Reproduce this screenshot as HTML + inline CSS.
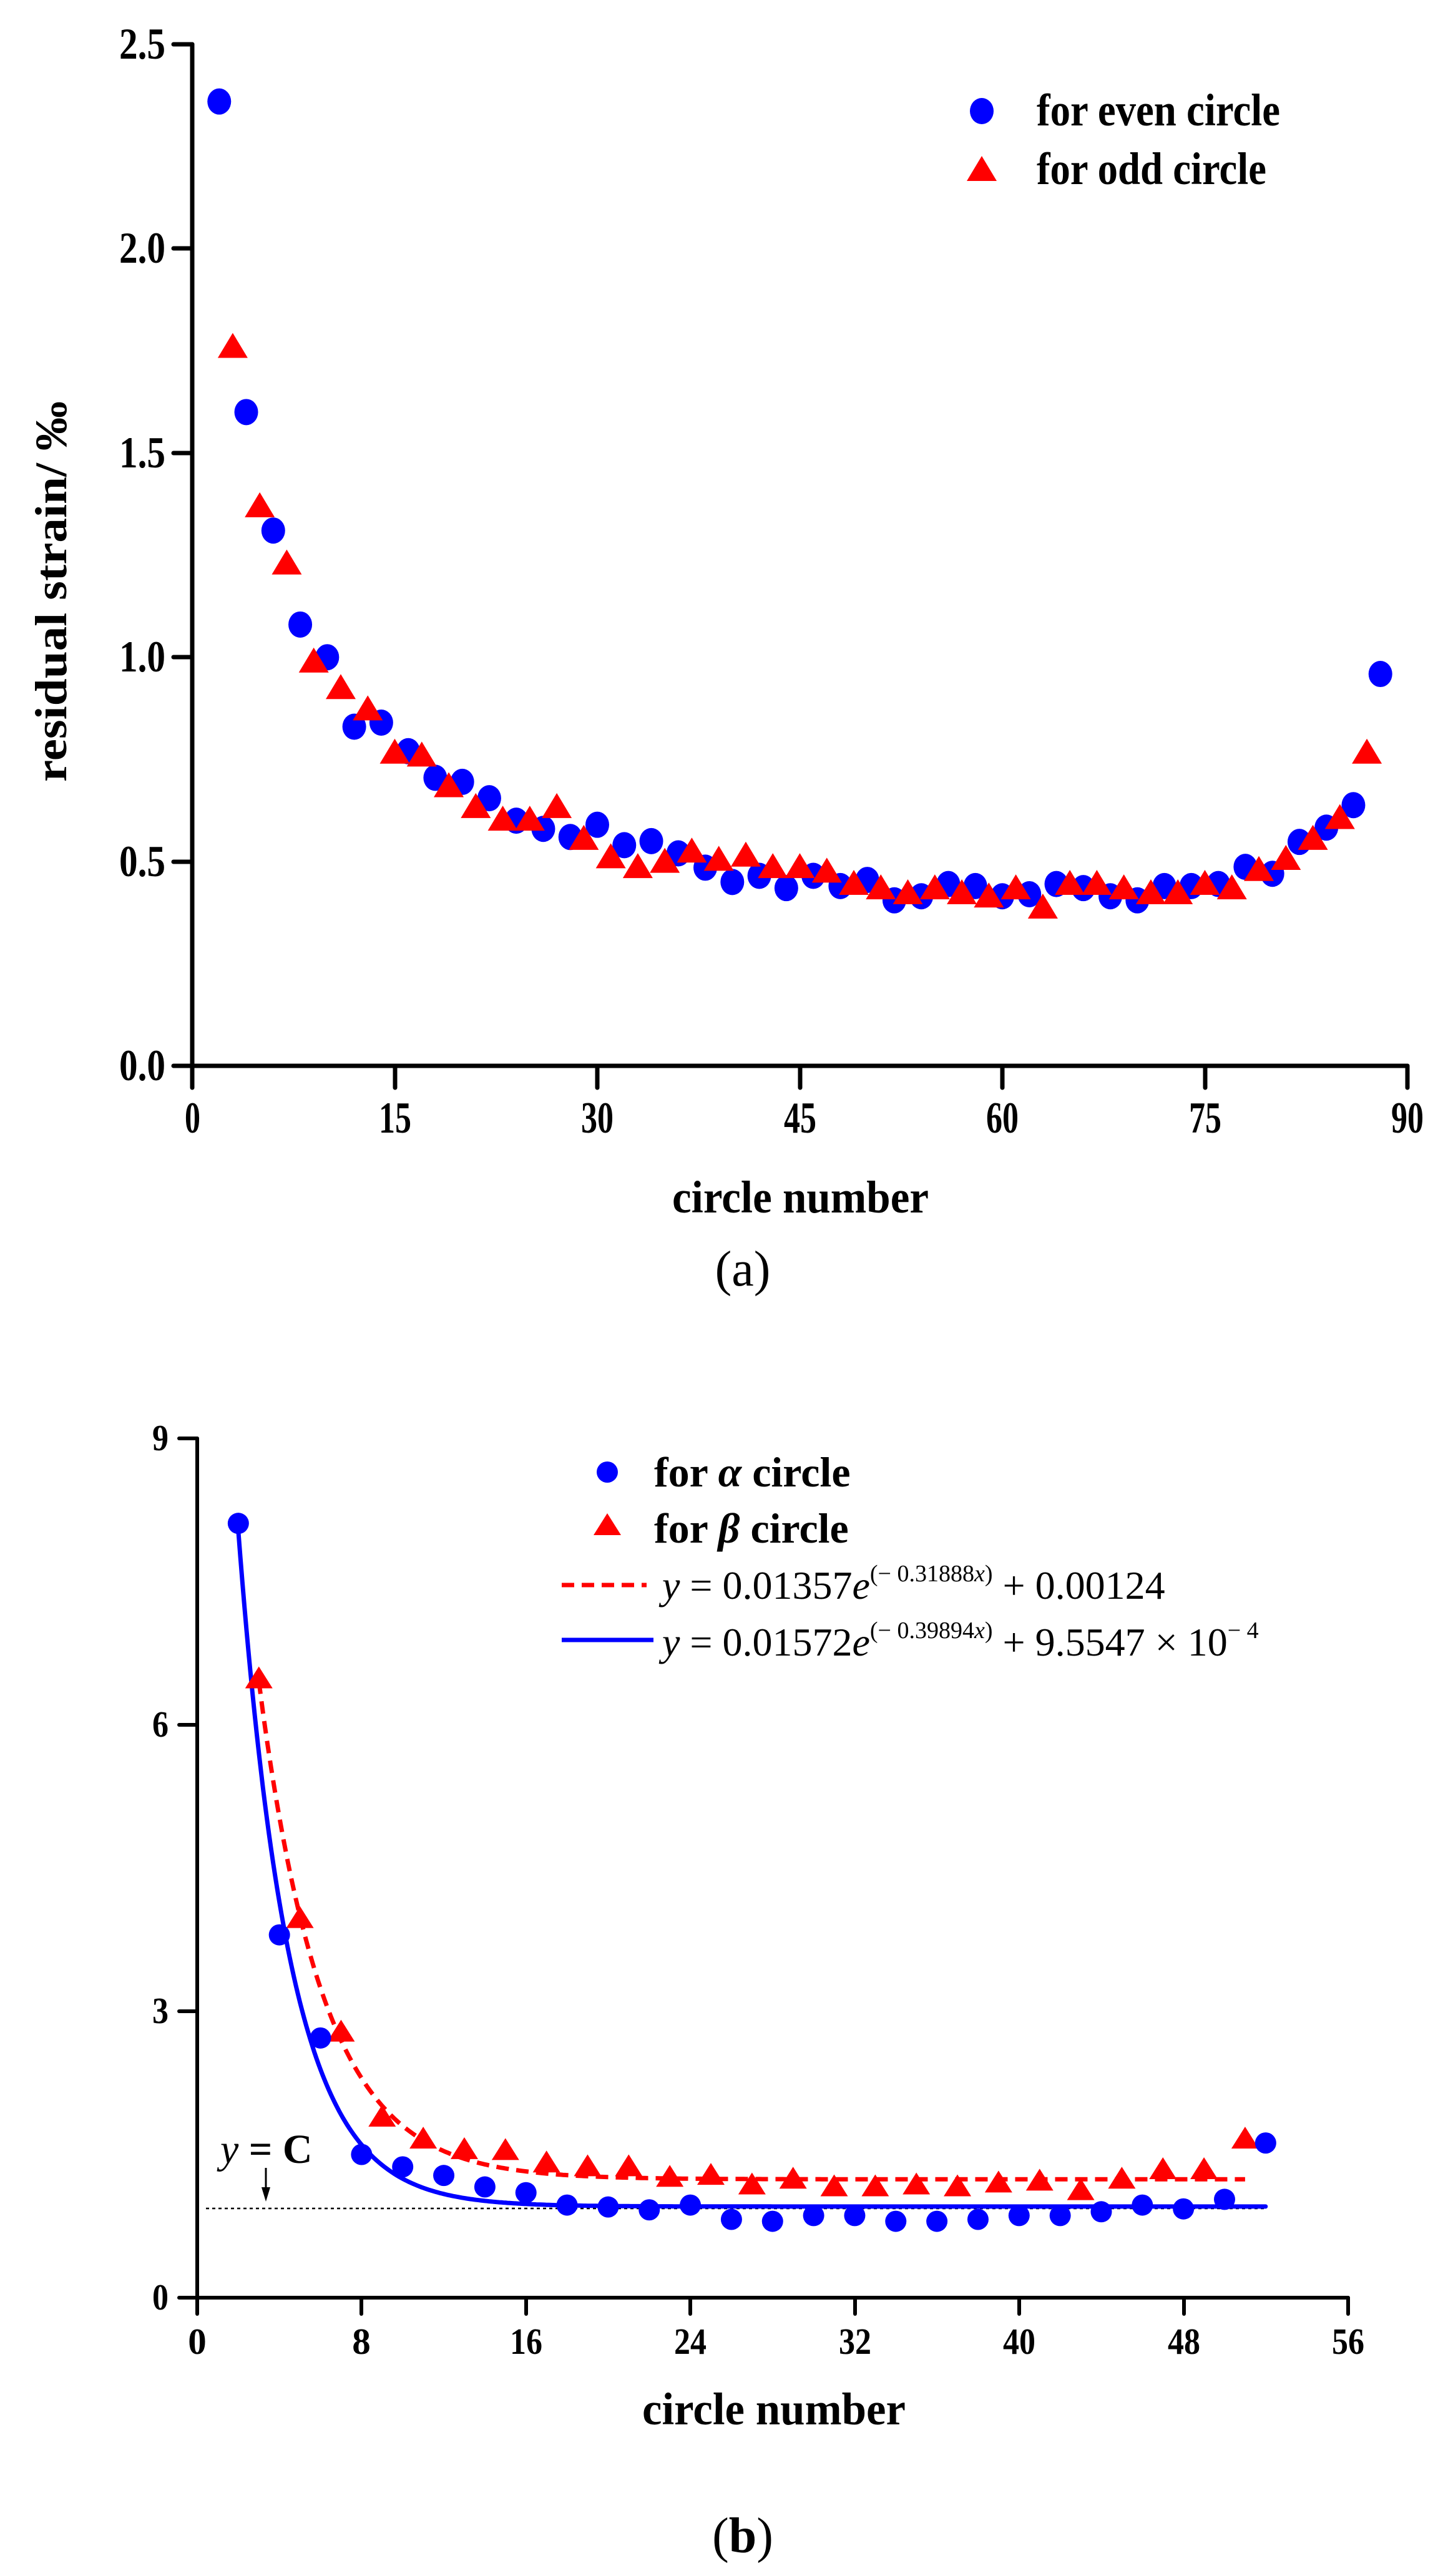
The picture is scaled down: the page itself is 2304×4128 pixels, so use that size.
<!DOCTYPE html>
<html><head><meta charset="utf-8">
<style>
html,body{margin:0;padding:0;background:#fff;}
svg{display:block;}
text{font-family:"Liberation Serif","DejaVu Serif",serif;fill:#000;}
.b{font-weight:bold;}
</style></head>
<body>
<svg id="s" width="2304" height="4128" viewBox="0 0 2304 4128" xmlns="http://www.w3.org/2000/svg">
<rect width="2304" height="4128" fill="#fff"/>
<g stroke="#000" stroke-width="7" stroke-linecap="round" fill="none">
<line x1="308" y1="71" x2="308" y2="1708"/>
<line x1="278" y1="1708" x2="2255" y2="1708"/>
<line x1="278" y1="71" x2="308" y2="71"/>
<line x1="278" y1="398" x2="308" y2="398"/>
<line x1="278" y1="726" x2="308" y2="726"/>
<line x1="278" y1="1053" x2="308" y2="1053"/>
<line x1="278" y1="1381" x2="308" y2="1381"/>
<line x1="308" y1="1708" x2="308" y2="1743"/>
<line x1="633" y1="1708" x2="633" y2="1743"/>
<line x1="957" y1="1708" x2="957" y2="1743"/>
<line x1="1282" y1="1708" x2="1282" y2="1743"/>
<line x1="1606" y1="1708" x2="1606" y2="1743"/>
<line x1="1931" y1="1708" x2="1931" y2="1743"/>
<line x1="2255" y1="1708" x2="2255" y2="1743"/>
</g>
<g class="b" font-size="71" text-anchor="end">
<text x="265" y="94" textLength="74" lengthAdjust="spacingAndGlyphs">2.5</text>
<text x="265" y="421" textLength="74" lengthAdjust="spacingAndGlyphs">2.0</text>
<text x="265" y="749" textLength="74" lengthAdjust="spacingAndGlyphs">1.5</text>
<text x="265" y="1076" textLength="74" lengthAdjust="spacingAndGlyphs">1.0</text>
<text x="265" y="1404" textLength="74" lengthAdjust="spacingAndGlyphs">0.5</text>
<text x="265" y="1731" textLength="74" lengthAdjust="spacingAndGlyphs">0.0</text>
</g>
<g class="b" font-size="71">
<text x="296" y="1815" textLength="25" lengthAdjust="spacingAndGlyphs">0</text>
<text x="607" y="1815" textLength="52" lengthAdjust="spacingAndGlyphs">15</text>
<text x="931" y="1815" textLength="52" lengthAdjust="spacingAndGlyphs">30</text>
<text x="1256" y="1815" textLength="52" lengthAdjust="spacingAndGlyphs">45</text>
<text x="1580" y="1815" textLength="52" lengthAdjust="spacingAndGlyphs">60</text>
<text x="1905" y="1815" textLength="52" lengthAdjust="spacingAndGlyphs">75</text>
<text x="2229" y="1815" textLength="52" lengthAdjust="spacingAndGlyphs">90</text>
</g>
<text class="b" x="1077" y="1943" font-size="73" textLength="411" lengthAdjust="spacingAndGlyphs">circle number</text>
<text class="b" transform="translate(106,1253) rotate(-90)" x="0" y="0" font-size="72" textLength="610" lengthAdjust="spacingAndGlyphs">residual strain/ ‰</text>
<text x="1190" y="2060" font-size="80" text-anchor="middle">(a)</text>
<ellipse cx="1573" cy="178" rx="19" ry="21" fill="#0000ff"/>
<polygon points="1549,290 1597,290 1573,250" fill="#ff0000"/>
<text class="b" x="1661" y="201" font-size="73" textLength="390" lengthAdjust="spacingAndGlyphs">for even circle</text>
<text class="b" x="1661" y="295" font-size="73" textLength="368" lengthAdjust="spacingAndGlyphs">for odd circle</text>
<g id="ga"></g>

<g stroke="#000" stroke-width="6" stroke-linecap="round" fill="none">
<line x1="316" y1="2305" x2="316" y2="3682"/>
<line x1="287" y1="3682" x2="2160" y2="3682"/>
<line x1="287" y1="2305" x2="316" y2="2305"/>
<line x1="287" y1="2764" x2="316" y2="2764"/>
<line x1="287" y1="3223" x2="316" y2="3223"/>
<line x1="316" y1="3682" x2="316" y2="3708"/>
<line x1="579" y1="3682" x2="579" y2="3708"/>
<line x1="843" y1="3682" x2="843" y2="3708"/>
<line x1="1106" y1="3682" x2="1106" y2="3708"/>
<line x1="1370" y1="3682" x2="1370" y2="3708"/>
<line x1="1633" y1="3682" x2="1633" y2="3708"/>
<line x1="1897" y1="3682" x2="1897" y2="3708"/>
<line x1="2160" y1="3682" x2="2160" y2="3708"/>
</g>
<g class="b" font-size="59" text-anchor="end">
<text x="270" y="2324" textLength="26" lengthAdjust="spacingAndGlyphs">9</text>
<text x="270" y="2783" textLength="26" lengthAdjust="spacingAndGlyphs">6</text>
<text x="270" y="3242" textLength="26" lengthAdjust="spacingAndGlyphs">3</text>
<text x="270" y="3701" textLength="26" lengthAdjust="spacingAndGlyphs">0</text>
</g>
<g class="b" font-size="59" text-anchor="middle">
<text x="316" y="3772">0</text>
<text x="579" y="3772">8</text>
<text x="843" y="3772" textLength="52" lengthAdjust="spacingAndGlyphs">16</text>
<text x="1106" y="3772" textLength="52" lengthAdjust="spacingAndGlyphs">24</text>
<text x="1370" y="3772" textLength="52" lengthAdjust="spacingAndGlyphs">32</text>
<text x="1633" y="3772" textLength="52" lengthAdjust="spacingAndGlyphs">40</text>
<text x="1897" y="3772" textLength="52" lengthAdjust="spacingAndGlyphs">48</text>
<text x="2160" y="3772" textLength="52" lengthAdjust="spacingAndGlyphs">56</text>
</g>
<text class="b" x="1029" y="3885" font-size="73" textLength="422" lengthAdjust="spacingAndGlyphs">circle number</text>
<text x="1190" y="4090" font-size="80" text-anchor="middle">(<tspan font-weight="bold">b</tspan>)</text>
<line x1="330" y1="3539" x2="2030" y2="3539" stroke="#000" stroke-width="2.5" stroke-dasharray="5,5"/>
<text x="353" y="3466" font-size="66"><tspan font-style="italic">y</tspan><tspan font-weight="bold"> = C</tspan></text>
<line x1="426" y1="3474" x2="426" y2="3510" stroke="#000" stroke-width="3"/>
<polygon points="419,3505 433,3505 426,3528" fill="#000"/>
<circle cx="973" cy="2359" r="17" fill="#0000ff"/>
<polygon points="951,2460 995,2460 973,2425" fill="#ff0000"/>
<text class="b" x="1048" y="2382" font-size="68">for <tspan font-style="italic">α</tspan> circle</text>
<text class="b" x="1048" y="2472" font-size="68">for <tspan font-style="italic">β</tspan> circle</text>
<line x1="900" y1="2540" x2="1036" y2="2540" stroke="#ff0000" stroke-width="7" stroke-dasharray="20,12"/>
<line x1="900" y1="2628" x2="1047" y2="2628" stroke="#0000ff" stroke-width="7"/>
<text x="1061" y="2562" font-size="64"><tspan font-style="italic">y</tspan> = 0.01357<tspan font-style="italic">e</tspan><tspan font-size="38" dy="-28">(− 0.31888<tspan font-style="italic">x</tspan>)</tspan><tspan dy="28"> + 0.00124</tspan></text>
<text x="1061" y="2653" font-size="64"><tspan font-style="italic">y</tspan> = 0.01572<tspan font-style="italic">e</tspan><tspan font-size="38" dy="-28">(− 0.39894<tspan font-style="italic">x</tspan>)</tspan><tspan dy="28"> + 9.5547 × 10</tspan><tspan font-size="38" dy="-28">− 4</tspan></text>
<g id="gb"></g>
</svg>
<script>
(function(){
var NS="http://www.w3.org/2000/svg";
function el(p,n,a){var e=document.createElementNS(NS,n);for(var k in a)e.setAttribute(k,a[k]);p.appendChild(e);return e;}
var ga=document.getElementById('ga'),gb=document.getElementById('gb');
function XA(x){return 308+x*21.633;} function YA(v){return 1708-v*654.8;}
function XB(x){return 316+x*32.92;} function YB(v){return 3682-v*153;}
var ev=[2.36,1.60,1.31,1.08,1.00,0.83,0.84,0.77,0.705,0.695,0.655,0.60,0.58,0.56,0.59,0.54,0.55,0.52,0.485,0.45,0.465,0.435,0.465,0.44,0.455,0.405,0.415,0.445,0.44,0.415,0.42,0.445,0.435,0.415,0.405,0.44,0.44,0.445,0.487,0.47,0.548,0.583,0.638,0.959];
var od=[1.76,1.37,1.23,0.99,0.925,0.873,0.767,0.76,0.685,0.634,0.603,0.603,0.634,0.556,0.511,0.487,0.50,0.525,0.505,0.515,0.487,0.487,0.476,0.446,0.435,0.423,0.435,0.423,0.415,0.435,0.388,0.446,0.446,0.435,0.423,0.423,0.446,0.435,0.48,0.507,0.556,0.607,0.767];
ev.forEach(function(v,i){el(ga,'ellipse',{cx:XA(2+2*i),cy:YA(v),rx:19,ry:21,fill:'#0000ff'});});
od.forEach(function(v,i){var x=XA(3+2*i),y=YA(v);el(ga,'polygon',{points:(x-24)+','+(y+18)+' '+(x+24)+','+(y+18)+' '+x+','+(y-22),fill:'#ff0000'});});
var d='';for(var x=2;x<=52.001;x+=0.1){var v=15.72*Math.exp(-0.39894*x)+0.955;d+=(d?'L':'M')+XB(x).toFixed(1)+','+YB(v).toFixed(1);}
el(gb,'path',{d:d,fill:'none',stroke:'#0000ff','stroke-width':7,'stroke-linecap':'round'});
d='';for(var x=3;x<=51.001;x+=0.1){var v=13.57*Math.exp(-0.31888*x)+1.24;d+=(d?'L':'M')+XB(x).toFixed(1)+','+YB(v).toFixed(1);}
el(gb,'path',{d:d,fill:'none',stroke:'#ff0000','stroke-width':7,'stroke-dasharray':'20,12'});
var al=[8.11,3.80,2.72,1.50,1.37,1.28,1.16,1.10,0.97,0.95,0.92,0.97,0.82,0.80,0.86,0.86,0.80,0.80,0.82,0.86,0.86,0.90,0.97,0.93,1.03,1.62];
var be=[6.48,3.97,2.78,1.89,1.66,1.55,1.54,1.41,1.37,1.37,1.26,1.28,1.18,1.24,1.16,1.16,1.18,1.16,1.20,1.22,1.12,1.24,1.34,1.34,1.66];
be.forEach(function(v,i){var x=XB(3+2*i),y=YB(v);el(gb,'polygon',{points:(x-22)+','+(y+15)+' '+(x+22)+','+(y+15)+' '+x+','+(y-20),fill:'#ff0000'});});
al.forEach(function(v,i){el(gb,'circle',{cx:XB(2+2*i),cy:YB(v),r:17,fill:'#0000ff'});});
})();
</script>
</body></html>
